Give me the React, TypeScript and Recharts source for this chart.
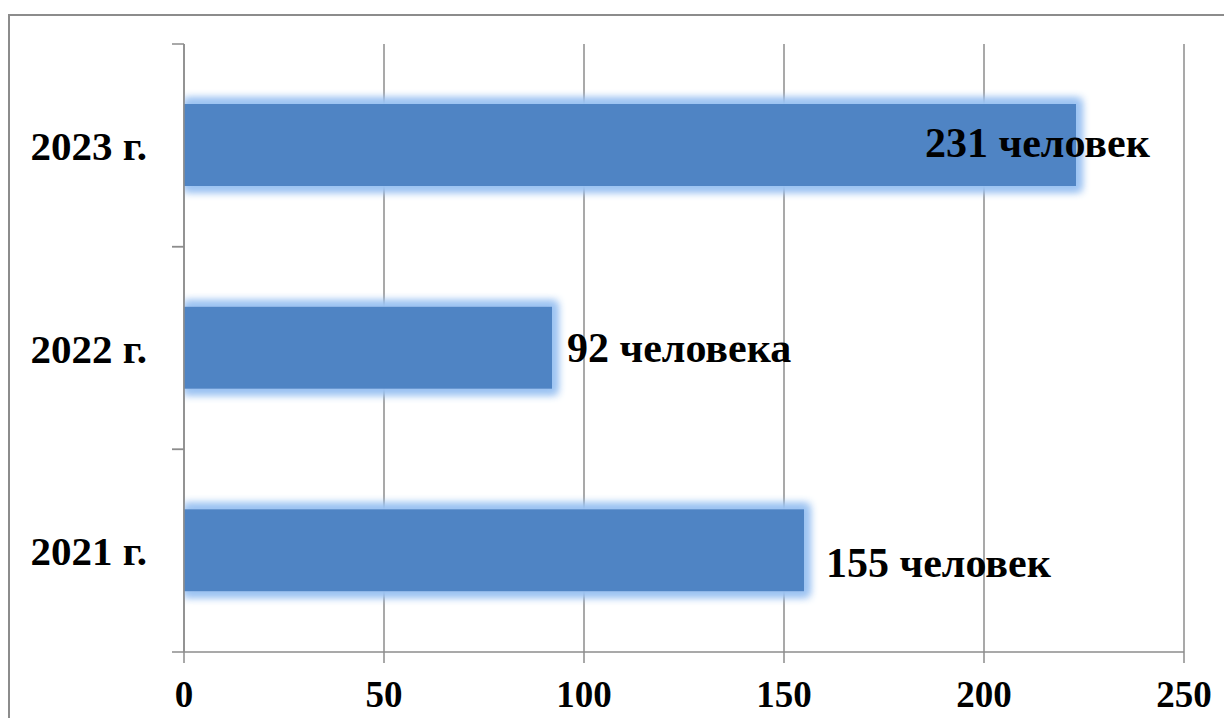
import React from 'react';
import { BarChart, Bar, XAxis, YAxis, CartesianGrid, LabelList } from 'recharts';

const years = ['2023 г.', '2022 г.', '2021 г.'];
const people = [223, 92, 155];
const peopleLabels = ['231 человек', '92 человека', '155 человек'];
const xTicks = [0, 50, 100, 150, 200, 250];

const data = years.map((year, i) => ({ year, people: people[i], label: peopleLabels[i] }));

const W = 1232;
const H = 726;
const TOP = 44;
const AXIS_W = 184;
const AXIS_H = 74;
const RIGHT = 48;
const GRAY = '#8c8c8c';
const FONT = '"Liberation Serif", "Times New Roman", serif';

// label nudges relative to the bar end (style only)
const labelDx = [-151, 15, 22];
const labelDy = [-3, -1, 12];

const halfBand = (H - TOP - AXIS_H) / years.length / 2;

const YearTick = (props: any) => {
  const { y, payload } = props;
  return (
    <g>
      <line x1={AXIS_W - 12} x2={AXIS_W} y1={y - halfBand} y2={y - halfBand} stroke={GRAY} strokeWidth={1.5} />
      <line x1={AXIS_W - 12} x2={AXIS_W} y1={y + halfBand} y2={y + halfBand} stroke={GRAY} strokeWidth={1.5} />
      <text x={AXIS_W - 37} y={y} dy="0.36em" textAnchor="end" fontFamily={FONT} fontWeight="bold" fontSize={41} fill="#000">
        {payload.value}
      </text>
    </g>
  );
};

const ValueLabel = (props: any) => {
  const { x, y, width, height, index, value } = props;
  return (
    <text
      x={x + width + labelDx[index]}
      y={y + height / 2 + labelDy[index]}
      dy="0.36em"
      textAnchor="start"
      fontFamily={FONT}
      fontWeight="bold"
      fontSize={42}
      fill="#000"
    >
      {value}
    </text>
  );
};

export default function App() {
  return (
    <div style={{ position: 'relative', width: W, height: H, margin: -8, overflow: 'hidden', background: '#fff' }}>
      <svg width={0} height={0} style={{ position: 'absolute' }}>
        <defs>
          {/* soft light-blue glow, cut at the value axis like the original */}
          <filter id="barGlow" x="0%" y="-50%" width="120%" height="200%">
            <feMorphology in="SourceAlpha" operator="dilate" radius="5" result="grow" />
            <feGaussianBlur in="grow" stdDeviation="4.5" result="blur" />
            <feFlood floodColor="#9cc3f2" floodOpacity="1" />
            <feComposite in2="blur" operator="in" result="glow" />
            <feMerge>
              <feMergeNode in="glow" />
              <feMergeNode in="glow" />
              <feMergeNode in="SourceGraphic" />
            </feMerge>
          </filter>
        </defs>
      </svg>
      <div
        style={{
          position: 'absolute',
          left: 8,
          top: 14,
          width: W + 20,
          height: H + 20,
          border: `2px solid ${GRAY}`,
          boxSizing: 'border-box',
        }}
      />
      <div style={{ position: 'absolute', left: 0, top: 0 }}>
        <BarChart
          width={W}
          height={H}
          data={data}
          layout="vertical"
          margin={{ top: TOP, right: RIGHT, left: 0, bottom: 0 }}
        >
          <CartesianGrid horizontal={false} stroke={GRAY} strokeWidth={1.5} />
          <XAxis
            type="number"
            domain={[0, 250]}
            ticks={xTicks}
            height={AXIS_H}
            axisLine={{ stroke: GRAY, strokeWidth: 1.5 }}
            tickLine={{ stroke: GRAY, strokeWidth: 1.5 }}
            tickSize={11}
            tickMargin={18}
            tick={{ fill: '#000', fontFamily: FONT, fontWeight: 'bold', fontSize: 37 }}
          />
          <YAxis
            type="category"
            dataKey="year"
            width={AXIS_W}
            axisLine={{ stroke: GRAY, strokeWidth: 1.5 }}
            tickLine={false}
            tick={<YearTick />}
          />
          <Bar dataKey="people" fill="#4f84c4" barSize={82} filter="url(#barGlow)" isAnimationActive={false}>
            <LabelList dataKey="label" content={<ValueLabel />} />
          </Bar>
        </BarChart>
      </div>
    </div>
  );
}
